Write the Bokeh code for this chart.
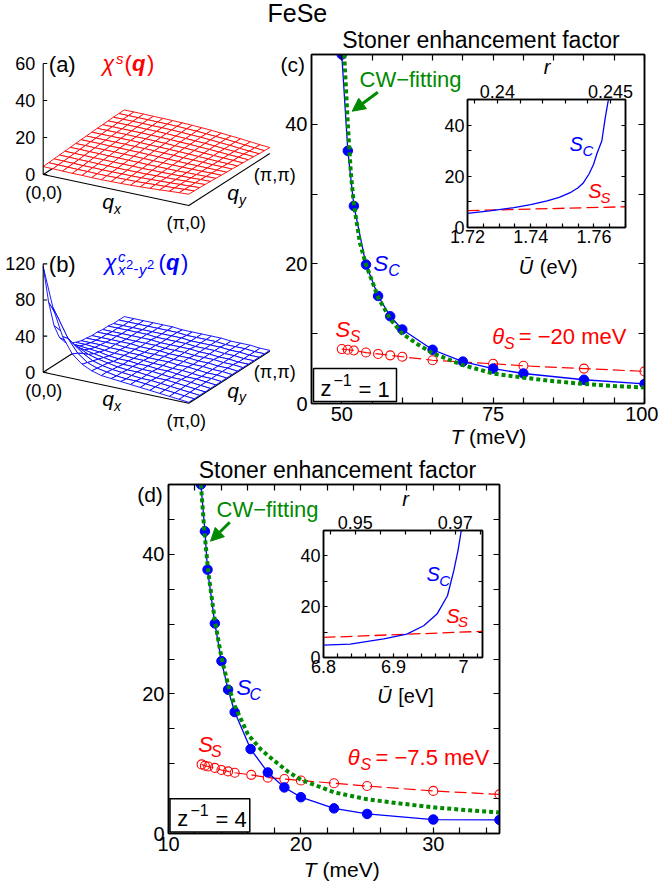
from bokeh.plotting import figure
from bokeh.models import Range1d, LinearAxis, FixedTicker, Label, Arrow, NormalHead, BoxAnnotation
from bokeh.embed import file_html
from bokeh.resources import INLINE

FONT = "Liberation Sans"
RED = "#ff0000"
BLUE = "#0000ff"
GREEN = "#008a00"
BLACK = "#000000"

# ------------------------------------------------------------------ data
# panel (c): z^-1 = 1
T_c_SC = [50, 51, 52, 54, 56, 58, 60, 65, 70, 75, 80, 90, 100]
S_c_SC = [50.0, 36.2, 28.3, 19.9, 15.4, 12.5, 10.6, 7.7, 6.0, 5.0, 4.3, 3.4, 2.8]
T_c_SS = [50, 51, 52, 54, 56, 58, 60, 65, 75, 80, 90, 100]
S_c_SS = [7.8, 7.7, 7.6, 7.3, 7.1, 6.9, 6.7, 6.2, 5.7, 5.4, 5.0, 4.6]
T_c_CW = [50.4, 51, 51.5, 52, 53, 54, 56, 58, 60, 62.5, 65, 70, 75, 80, 85, 90, 95, 100]
S_c_CW = [50, 40, 33, 28.5, 23, 19.9, 15.2, 12.1, 10.0, 8.5, 7.2, 5.5, 4.3, 3.7, 3.2, 2.8, 2.5, 2.3]
# inset of (c)
U_c_SC = [1.72, 1.727, 1.7347, 1.74, 1.7452, 1.749, 1.7525, 1.755, 1.7567, 1.7585,
          1.7599, 1.761, 1.7625, 1.7636, 1.7646]
S_c_SC_in = [5.5, 6.5, 7.8, 8.9, 10.4, 11.8, 13.6, 15.5, 17.5, 21.0, 24.7, 29.0, 33.8, 42.9, 50.0]
U_c_SS = [1.72, 1.77]
S_c_SS_in = [6.6, 8.1]

# panel (d): z^-1 = 4
T_d_SC = [12.45, 12.75, 12.95, 13.5, 14, 14.5, 15, 16.2, 17.5, 18.75, 20, 22.5, 25, 30, 35]
S_d_SC = [50.0, 43.3, 37.8, 30.1, 24.7, 20.6, 17.4, 12.1, 8.75, 6.6, 5.2, 3.6, 2.8, 2.0, 1.95]
T_d_SS = [12.5, 12.75, 13, 13.5, 14, 14.5, 15, 16.25, 17.5, 18.75, 20, 22.5, 25, 30, 35]
S_d_SS = [9.9, 9.7, 9.6, 9.4, 9.1, 8.9, 8.7, 8.4, 8.0, 7.8, 7.6, 7.2, 6.8, 6.1, 5.6]
T_d_CW = [12.45, 12.7, 13, 13.5, 14, 14.5, 15, 16, 17, 18, 19, 20, 22.5, 25, 27.5, 30, 32.5, 35]
S_d_CW = [50, 43.5, 37.5, 30.5, 25.2, 21.3, 18.3, 14.2, 12.0, 10.4, 8.9, 7.7, 5.9, 4.9, 4.3, 3.75, 3.35, 3.0]
# inset of (d)
U_d_SC = [6.8, 6.838, 6.886, 6.919, 6.943, 6.962, 6.977, 6.986, 6.992, 6.9967]
S_d_SC_in = [4.9, 5.3, 7.3, 9.2, 12.5, 17.1, 24.3, 34.2, 42.1, 50.0]
U_d_SS = [6.8, 7.027]
S_d_SS_in = [7.9, 10.3]

# (a) chi^s(q) and (b) chi^c_{x2-y2}(q) on a 16 x 16 grid, q in [0,pi]^2
# rows: q_y index (0 .. pi), columns: q_x index (0 .. pi)
CHI_S = [
    [4.3, 4.2, 4.1, 4.0, 4.0, 3.9, 3.9, 4.0, 4.1, 4.3, 4.5, 4.8, 5.1, 5.5, 5.8, 6.1],
    [4.5, 4.4, 4.3, 4.2, 4.2, 4.1, 4.1, 4.2, 4.3, 4.4, 4.6, 4.9, 5.1, 5.4, 5.7, 6.0],
    [4.7, 4.6, 4.5, 4.4, 4.4, 4.3, 4.3, 4.4, 4.4, 4.5, 4.7, 4.9, 5.1, 5.4, 5.6, 5.9],
    [4.9, 4.8, 4.7, 4.7, 4.6, 4.6, 4.5, 4.5, 4.6, 4.6, 4.8, 4.9, 5.1, 5.3, 5.5, 5.7],
    [5.1, 5.0, 5.0, 4.9, 4.9, 4.8, 4.8, 4.8, 4.7, 4.8, 4.8, 4.9, 5.0, 5.2, 5.4, 5.5],
    [5.3, 5.3, 5.2, 5.2, 5.1, 5.1, 5.0, 5.0, 4.9, 4.9, 4.9, 4.9, 5.0, 5.1, 5.2, 5.3],
    [5.5, 5.5, 5.4, 5.4, 5.4, 5.3, 5.3, 5.2, 5.1, 5.1, 5.0, 5.0, 5.0, 5.0, 5.1, 5.1],
    [5.7, 5.7, 5.7, 5.6, 5.6, 5.5, 5.5, 5.4, 5.3, 5.2, 5.1, 5.0, 5.0, 4.9, 4.9, 4.9],
    [5.8, 5.8, 5.8, 5.8, 5.8, 5.7, 5.7, 5.6, 5.5, 5.4, 5.2, 5.1, 5.0, 4.8, 4.8, 4.7],
    [6.0, 6.0, 6.0, 6.0, 6.0, 5.9, 5.8, 5.7, 5.6, 5.5, 5.3, 5.1, 4.9, 4.7, 4.6, 4.5],
    [6.2, 6.2, 6.2, 6.2, 6.1, 6.1, 6.0, 5.9, 5.7, 5.6, 5.4, 5.1, 4.9, 4.7, 4.5, 4.3],
    [6.3, 6.3, 6.3, 6.3, 6.3, 6.2, 6.1, 6.0, 5.8, 5.7, 5.4, 5.2, 4.9, 4.6, 4.4, 4.1],
    [6.5, 6.5, 6.5, 6.5, 6.4, 6.4, 6.3, 6.1, 5.9, 5.7, 5.5, 5.2, 4.8, 4.5, 4.2, 3.9],
    [6.6, 6.6, 6.6, 6.6, 6.5, 6.5, 6.4, 6.2, 6.0, 5.8, 5.5, 5.1, 4.8, 4.3, 3.9, 3.6],
    [6.7, 6.7, 6.7, 6.7, 6.6, 6.6, 6.5, 6.3, 6.1, 5.8, 5.5, 5.1, 4.7, 4.2, 3.8, 3.4],
    [6.8, 6.8, 6.8, 6.7, 6.7, 6.6, 6.5, 6.3, 6.1, 5.8, 5.4, 5.0, 4.6, 4.1, 3.6, 3.2],
]
CHI_C = [
    [117, 74, 44, 27, 18, 13, 10, 9, 8, 7, 6, 5, 4, 3, 2, 1],
    [74, 58, 38, 24, 16, 12, 10, 8, 7, 7, 6, 5, 4, 3, 2, 1],
    [44, 38, 28, 20, 14, 11, 9, 8, 7, 6, 6, 5, 4, 3, 2, 1],
    [27, 24, 20, 15, 12, 10, 8, 7, 7, 6, 5, 5, 4, 3, 2, 1],
    [18, 16, 14, 12, 10, 8, 7, 7, 6, 6, 5, 4, 4, 3, 2, 1],
    [13, 12, 11, 10, 8, 7, 7, 6, 6, 5, 5, 4, 3, 3, 2, 1],
    [10, 10, 9, 8, 7, 7, 6, 6, 5, 5, 4, 4, 3, 2, 2, 1],
    [8, 8, 8, 7, 7, 6, 6, 5, 5, 5, 4, 4, 3, 2, 2, 1],
    [7, 7, 7, 7, 6, 6, 5, 5, 5, 4, 4, 3, 3, 2, 2, 1],
    [6, 6, 6, 6, 6, 5, 5, 5, 4, 4, 4, 3, 3, 2, 2, 1],
    [6, 6, 6, 5, 5, 5, 5, 4, 4, 4, 3, 3, 3, 2, 2, 1],
    [5, 5, 5, 5, 5, 5, 4, 4, 4, 4, 3, 3, 2, 2, 1, 1],
    [5, 5, 5, 5, 5, 4, 4, 4, 4, 3, 3, 3, 2, 2, 1, 1],
    [4, 4, 4, 4, 4, 4, 4, 4, 3, 3, 3, 3, 2, 2, 1, 1],
    [4, 4, 4, 4, 4, 4, 4, 3, 3, 3, 3, 2, 2, 2, 1, 1],
    [4, 4, 4, 4, 4, 4, 3, 3, 3, 3, 3, 2, 2, 2, 1, 1],
]
Z_TICKS_A = [0, 20, 40, 60]
Z_TICKS_B = [0, 40, 80, 120]

# ------------------------------------------------------------------ layout
PC = dict(L=311, T=54, W=333, H=349, xr=(45.0, 100.0), yr=(0.0, 50.0), b=(50, 44, 14, 54))
PCI = dict(L=467, T=99, W=158, H=128, xr=(1.72, 1.77), yr=(0.0, 50.0), b=(34, 42, 12, 52))
PD = dict(L=168, T=484, W=331, H=349, xr=(10.0, 35.0), yr=(0.0, 50.0), b=(50, 32, 12, 53))
PDI = dict(L=323, T=530, W=159, H=127, xr=(6.8, 7.027), yr=(0.0, 50.0), b=(34, 40, 12, 52))
R_C = (0.23868, 0.24566)
R_D = (0.94366, 0.97546)
PAGE_W, PAGE_H = 655, 886


def to_data(pan, px, py):
    x0, x1 = pan["xr"]
    y0, y1 = pan["yr"]
    return (x0 + (px - pan["L"]) / pan["W"] * (x1 - x0),
            y0 + (pan["T"] + pan["H"] - py) / pan["H"] * (y1 - y0))


def page_fig():
    p = figure(width=PAGE_W, height=PAGE_H, x_range=Range1d(0, PAGE_W), y_range=Range1d(PAGE_H, 0),
               min_border=0, x_axis_location=None, y_axis_location=None,
               toolbar_location=None, tools="", output_backend="svg",
               styles={"position": "absolute", "left": "0px", "top": "0px"})
    p.outline_line_color = None
    p.background_fill_color = None
    p.border_fill_color = None
    p.grid.visible = False
    return p


def make_fig(pan):
    bl, bt, br, bb = pan["b"]
    p = figure(frame_width=pan["W"], frame_height=pan["H"],
               x_range=Range1d(*pan["xr"]), y_range=Range1d(*pan["yr"]),
               min_border_left=bl, min_border_top=bt, min_border_right=br, min_border_bottom=bb,
               x_axis_location=None, y_axis_location=None,
               toolbar_location=None, tools="", output_backend="svg",
               styles={"position": "absolute", "left": f"{pan['L'] - bl}px",
                       "top": f"{pan['T'] - bt}px"})
    p.border_fill_color = None
    p.background_fill_color = "white"
    p.outline_line_color = BLACK
    p.outline_line_width = 1.5
    p.grid.visible = False
    return p


def axis(p, loc, ticks, minor, size, tick_len, show=True, overrides=None, range_name=None, standoff=3):
    kw = {}
    if range_name:
        kw["x_range_name"] = range_name
    if show:
        ticker = FixedTicker(ticks=ticks, minor_ticks=minor)
    else:  # mirror axis: tick marks only, no labels
        ticker = FixedTicker(ticks=[], minor_ticks=sorted(list(ticks) + list(minor)))
    ax = LinearAxis(ticker=ticker, **kw)
    ax.axis_line_color = BLACK
    ax.axis_line_width = 1.5
    ax.major_tick_in = tick_len
    ax.major_tick_out = 0
    ax.minor_tick_in = tick_len
    ax.minor_tick_out = 0
    ax.major_tick_line_color = BLACK
    ax.minor_tick_line_color = BLACK
    ax.major_tick_line_width = 1.2
    ax.minor_tick_line_width = 1.2
    ax.major_label_text_font = FONT
    ax.major_label_text_color = BLACK
    ax.major_label_text_font_size = f"{size}px"
    ax.major_label_standoff = standoff
    if overrides:
        ax.major_label_overrides = overrides
    p.add_layout(ax, loc)


def put(p, px, py, s, size, color=BLACK, style="normal", align="left", baseline="alphabetic"):
    # page-pixel placement; an alphabetic baseline is converted to the em-box middle
    if baseline == "alphabetic":
        py = py - 0.35 * size
        baseline = "middle"
    p.add_layout(Label(x=px, y=py, text=s, text_font=FONT, text_font_size=f"{size}px",
                       text_font_style=style, text_color=color, text_align=align,
                       text_baseline=baseline))


def arrow(p, pan, x0, y0, x1, y1):
    a = to_data(pan, x0, y0)
    b = to_data(pan, x1, y1)
    p.add_layout(Arrow(end=NormalHead(size=13, fill_color=GREEN, line_color=GREEN),
                       x_start=a[0], y_start=a[1], x_end=b[0], y_end=b[1],
                       line_color=GREEN, line_width=3))


def zbox(p, pan, x0, y0, x1, y1):
    a = to_data(pan, x0, y1)
    b = to_data(pan, x1, y0)
    p.add_layout(BoxAnnotation(left=a[0], right=b[0], bottom=a[1], top=b[1],
                               fill_color="white", fill_alpha=1.0,
                               line_color=BLACK, line_width=1.5, line_alpha=1.0))


def main_panel(pan, xt, xm, yt, ym, Tsc, Ssc, Tss, Sss, Tcw, Scw):
    p = make_fig(pan)
    axis(p, "below", xt, xm, 20, 6)
    axis(p, "above", xt, xm, 20, 6, show=False)
    axis(p, "left", yt, ym, 20, 6, standoff=4)
    axis(p, "right", yt, ym, 20, 6, show=False)
    p.line(Tss, Sss, line_color=RED, line_width=1.2, line_dash="12 5")
    p.scatter(Tss, Sss, marker="circle", size=9, fill_color=None, line_color=RED, line_width=1.1)
    p.line(Tsc, Ssc, line_color=BLUE, line_width=1.3)
    p.scatter(Tsc, Ssc, marker="circle", size=9.5, fill_color=BLUE, line_color=BLUE)
    p.line(Tcw, Scw, line_color=GREEN, line_width=4, line_dash="4 3")
    return p


def inset_panel(pan, rr, xt, xm, rt, rm, ov_x, ov_r, Usc, Ssc, Uss, Sss):
    p = make_fig(pan)
    p.extra_x_ranges = {"r": Range1d(*rr)}
    axis(p, "below", xt, xm, 18, 4, overrides=ov_x, standoff=2)
    axis(p, "above", rt, rm, 18, 4, overrides=ov_r, range_name="r", standoff=2)
    axis(p, "left", [0, 20, 40], [10, 30, 50], 18, 4, standoff=3)
    axis(p, "right", [0, 20, 40], [10, 30, 50], 18, 4, show=False)
    p.line(Uss, Sss, line_color=RED, line_width=1.3, line_dash="12 5")
    p.line(Usc, Ssc, line_color=BLUE, line_width=1.3)
    return p


# ------------------------------------------------------------------ 3D panels (a), (b)
f3 = page_fig()

EX = (145.6, 31.0)
EY = (81.0, -52.0)


def proj(O, fx, fy, z, zs):
    return (O[0] + fx * EX[0] + fy * EY[0], O[1] + fx * EX[1] + fy * EY[1] - z * zs)


def surface3d(O, zs, Z, color, zticks):
    n = len(Z)
    xs, ys = zip(*[proj(O, a, b, 0, zs) for a, b in [(0, 1), (0, 0), (1, 0), (1, 1)]])
    f3.line(list(xs), list(ys), line_color=BLACK, line_width=1.1)
    quads = []
    for j in range(n - 1):
        for i in range(n - 1):
            px, py = [], []
            for a, b in [(i, j), (i + 1, j), (i + 1, j + 1), (i, j + 1)]:
                x, y = proj(O, a / (n - 1), b / (n - 1), Z[b][a], zs)
                px.append(x)
                py.append(y)
            depth = (i + 0.5) / (n - 1) * EX[1] + (j + 0.5) / (n - 1) * EY[1]
            quads.append((depth, px, py))
    quads.sort(key=lambda q: q[0])
    f3.patches([q[1] for q in quads], [q[2] for q in quads], fill_color="white",
               line_color=color, line_width=0.9)
    top = proj(O, 0, 0, zticks[-1], zs)
    f3.line([O[0], top[0]], [O[1], top[1]], line_color=BLACK, line_width=1.1)
    tys = [proj(O, 0, 0, z, zs)[1] for z in zticks]
    f3.segment(x0=[O[0]] * len(tys), y0=tys, x1=[O[0] + 4] * len(tys), y1=tys,
               line_color=BLACK, line_width=1.1)
    for z, ty in zip(zticks, tys):
        put(f3, O[0] - 8, ty, str(z), 18, align="right", baseline="middle")
    c00 = proj(O, 0, 0, 0, zs)
    c10 = proj(O, 1, 0, 0, zs)
    c11 = proj(O, 1, 1, 0, zs)
    put(f3, c00[0] + 0.6, c00[1] + 18.5, "(0,0)", 18, align="center", baseline="middle")
    put(f3, c10[0] - 2.5, c10[1] + 17.5, "(\u03c0,0)", 18, align="center", baseline="middle")
    put(f3, c11[0] - 16, c11[1] + 21, "(\u03c0,\u03c0)", 18, baseline="middle")
    put(f3, c00[0] + 59, c00[1] + 34, "q", 21, style="italic")
    put(f3, c00[0] + 70.8, c00[1] + 39, "x", 14, style="italic")
    put(f3, c10[0] + 38.4, c10[1] - 5.5, "q", 21, style="italic")
    put(f3, c10[0] + 50.2, c10[1] - 1, "y", 14, style="italic")


O_A = (42.7, 174.0)
O_B = (42.7, 371.7)
surface3d(O_A, 1.85, CHI_S, RED, Z_TICKS_A)
surface3d(O_B, 0.903, CHI_C, BLUE, Z_TICKS_B)

put(f3, 267, 21.7, "FeSe", 25)
put(f3, 48.3, 64, "(a)", 22, baseline="middle")
put(f3, 101.7, 71, "\u03c7", 22, RED, "italic")
put(f3, 115.5, 63, "s", 15, RED, "italic")
put(f3, 124, 71, "(", 22, RED)
put(f3, 131.5, 71, "q", 22, RED, "bold italic")
put(f3, 146.5, 71, ")", 22, RED)
put(f3, 48.3, 264, "(b)", 22, baseline="middle")
put(f3, 104, 270, "\u03c7", 22, BLUE, "italic")
put(f3, 117.5, 261, "c", 15, BLUE, "italic")
put(f3, 117.5, 274, "x", 15, BLUE, "italic")
put(f3, 125.5, 269, "2", 13, BLUE)
put(f3, 133, 274, "-", 15, BLUE)
put(f3, 138.5, 274, "y", 15, BLUE, "italic")
put(f3, 146.5, 269, "2", 13, BLUE)
put(f3, 158, 270, "(", 22, BLUE)
put(f3, 165.5, 270, "q", 22, BLUE, "bold italic")
put(f3, 180.5, 270, ")", 22, BLUE)

# ------------------------------------------------------------------ panels (c), (d) and insets
pc = main_panel(PC, [50, 75, 100], [55, 60, 65, 70, 80, 85, 90, 95],
                [0, 20, 40], [10, 30, 50], T_c_SC, S_c_SC, T_c_SS, S_c_SS, T_c_CW, S_c_CW)
arrow(pc, PC, 377.3, 91.7, 351.7, 110.7)
zbox(pc, PC, 313, 368, 396, 401)

pci = inset_panel(PCI, R_C, [1.72, 1.74, 1.76], [1.725, 1.73, 1.735, 1.745, 1.75, 1.755, 1.765, 1.77],
                  [0.24, 0.245], [0.239, 0.241, 0.242, 0.243, 0.244],
                  None, {0.24: "0.24", 0.245: "0.245"},
                  U_c_SC, S_c_SC_in, U_c_SS, S_c_SS_in)

pd = main_panel(PD, [10, 20, 30], [12, 14, 16, 18, 22, 24, 26, 28, 32, 34],
                [0, 20, 40], [5, 10, 15, 25, 30, 35, 45, 50],
                T_d_SC, S_d_SC, T_d_SS, S_d_SS, T_d_CW, S_d_CW)
arrow(pd, PD, 229.3, 521.7, 210, 540.7)
zbox(pd, PD, 169.5, 798.3, 249.3, 831.5)

pdi = inset_panel(PDI, R_D, [6.8, 6.9, 7.0],
                  [6.82, 6.84, 6.86, 6.88, 6.92, 6.94, 6.96, 6.98, 7.02],
                  [0.95, 0.97], [0.945, 0.955, 0.96, 0.965, 0.975],
                  {6.8: "6.8", 6.9: "6.9", 7.0: "7"}, {0.95: "0.95", 0.97: "0.97"},
                  U_d_SC, S_d_SC_in, U_d_SS, S_d_SS_in)

# ------------------------------------------------------------------ text layer (page pixels)
ov = page_fig()
# (c)
put(ov, 480.5, 48, "Stoner enhancement factor", 23, align="center")
put(ov, 280, 64, "(c)", 21, baseline="middle")
put(ov, 359, 86.5, "CW\u2212fitting", 22, GREEN)
put(ov, 373, 271, "S", 22, BLUE, "italic")
put(ov, 387.7, 276, "C", 16, BLUE, "italic")
put(ov, 335, 336.5, "S", 22, RED, "italic")
put(ov, 349.3, 341.5, "S", 16, RED, "italic")
put(ov, 491.7, 343.3, "\u03b8", 22, RED, "italic")
put(ov, 503.5, 348.3, "S", 16, RED, "italic")
put(ov, 518.3, 343.3, "= \u221220 meV", 22, RED)
put(ov, 320, 396, "z", 22)
put(ov, 333, 385, "\u22121", 16)
put(ov, 358, 396.5, "= 1", 22)
put(ov, 450, 443, "T", 21, style="italic")
put(ov, 468.5, 443, "(meV)", 21)
# inset (c)
put(ov, 569, 150, "S", 20, BLUE, "italic")
put(ov, 582, 155, "C", 15, BLUE, "italic")
put(ov, 587.7, 197.7, "S", 20, RED, "italic")
put(ov, 600, 202.7, "S", 15, RED, "italic")
put(ov, 543.3, 73.3, "r", 20, style="italic")
put(ov, 518.3, 273.3, "\u016a", 20, style="italic")
put(ov, 539.3, 273.3, "(eV)", 20)
# (d)
put(ov, 337, 477.7, "Stoner enhancement factor", 23, align="center")
put(ov, 136.7, 494, "(d)", 21, baseline="middle")
put(ov, 216, 516.7, "CW\u2212fitting", 22, GREEN)
put(ov, 236, 695, "S", 22, BLUE, "italic")
put(ov, 249, 700, "C", 16, BLUE, "italic")
put(ov, 197.7, 751.7, "S", 22, RED, "italic")
put(ov, 210.5, 756.7, "S", 16, RED, "italic")
put(ov, 347.3, 765, "\u03b8", 22, RED, "italic")
put(ov, 360, 770, "S", 16, RED, "italic")
put(ov, 375, 765, "= \u22127.5 meV", 22, RED)
put(ov, 176.7, 826, "z", 22)
put(ov, 190, 815, "\u22121", 16)
put(ov, 215, 826.5, "= 4", 22)
put(ov, 303.3, 876.5, "T", 21, style="italic")
put(ov, 322, 876.5, "(meV)", 21)
# inset (d)
put(ov, 426, 580, "S", 20, BLUE, "italic")
put(ov, 438.7, 585, "C", 15, BLUE, "italic")
put(ov, 445.7, 622.7, "S", 20, RED, "italic")
put(ov, 457.5, 626.7, "S", 15, RED, "italic")
put(ov, 401.7, 505, "r", 20, style="italic")
put(ov, 376.7, 702, "\u016a", 20, style="italic")
put(ov, 397.7, 702, "[eV]", 20)

open("out.html", "w").write(file_html([f3, pc, pci, pd, pdi, ov], INLINE, title="FeSe"))
